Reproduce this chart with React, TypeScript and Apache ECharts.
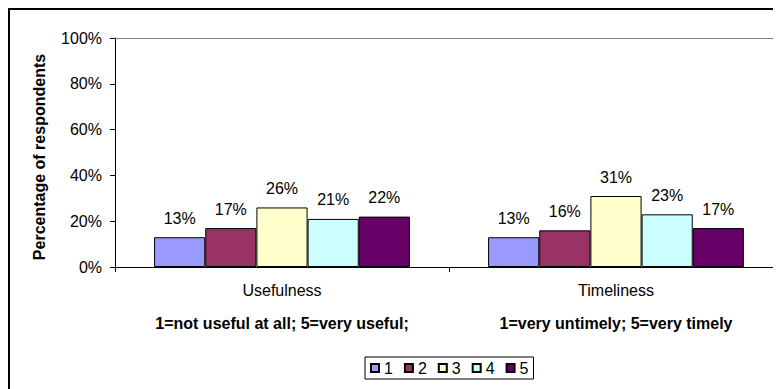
import React, { useEffect, useRef } from "react";
import * as echarts from "echarts";

const categories = ["Usefulness", "Timeliness"];
const subtitles = ["1=not useful at all; 5=very useful;", "1=very untimely; 5=very timely"];
const seriesNames = ["1", "2", "3", "4", "5"];
const rating1 = [13, 13];
const rating2 = [17, 16];
const rating3 = [26, 31];
const rating4 = [21, 23];
const rating5 = [22, 17];
const seriesColors = ["#9999FF", "#993366", "#FFFFCC", "#CCFFFF", "#660066"];
const yTicks = [0, 20, 40, 60, 80, 100];
const yAxisTitle = "Percentage of respondents";

const FONT = "'Liberation Sans', Arial, sans-serif";

export default function App() {
  const ref = useRef<HTMLDivElement>(null);
  useEffect(() => {
    document.body.style.overflow = "hidden";
    if (!ref.current) return;
    const chart = echarts.init(ref.current, undefined, { renderer: "svg" });
    const values = [rating1, rating2, rating3, rating4, rating5];
    chart.setOption({
      animation: false,
      textStyle: { fontFamily: FONT, color: "#000" },
      graphic: [
        {
          type: "polyline",
          shape: { points: [[1, 2000], [1, 1], [2000, 1]] },
          style: { fill: "none", stroke: "#000", lineWidth: 2 },
          silent: true,
          z: 100,
        },
        {
          type: "text",
          x: 31,
          y: 149,
          rotation: Math.PI / 2,
          style: {
            text: yAxisTitle,
            fontFamily: FONT,
            fontSize: 16,
            fontWeight: "bold",
            fill: "#000",
            textAlign: "center",
            textVerticalAlign: "middle",
          },
        },
      ],
      grid: {
        left: 107,
        top: 30,
        width: 668,
        height: 229,
        show: false,
        outerBoundsMode: "none",
      },
      legend: {
        data: seriesNames,
        left: 357,
        top: 349,
        orient: "horizontal",
        itemWidth: 8,
        itemHeight: 8,
        itemGap: 11,
        padding: [3, 5, 3, 5],
        borderColor: "#000",
        borderWidth: 1,
        icon: "rect",
        textStyle: { fontFamily: FONT, fontSize: 16, color: "#000" },
      },
      xAxis: [
        {
          type: "category",
          data: categories,
          axisLine: { show: true, lineStyle: { color: "#000", width: 1 } },
          axisTick: { show: true, length: 5, inside: false, lineStyle: { color: "#000" } },
          splitLine: { show: false },
          axisLabel: {
            interval: 0,
            margin: 13,
            color: "#000",
            formatter: (v: string, i: number) => `{a|${v}}\n{b|${subtitles[i]}}`,
            rich: {
              a: { fontFamily: FONT, fontSize: 16, lineHeight: 21, color: "#000" },
              b: { fontFamily: FONT, fontSize: 16, fontWeight: "bold", lineHeight: 44, color: "#000" },
            },
          },
        },
        {
          type: "category",
          data: categories,
          position: "top",
          axisLine: { show: true, lineStyle: { color: "#808080", width: 1 } },
          axisTick: { show: false },
          axisLabel: { show: false },
          splitLine: { show: false },
        },
      ],
      yAxis: {
        type: "value",
        min: yTicks[0],
        max: yTicks[yTicks.length - 1],
        interval: yTicks[1] - yTicks[0],
        axisLine: { show: true, lineStyle: { color: "#000", width: 1 } },
        axisTick: { show: true, length: 5, inside: false, lineStyle: { color: "#000" } },
        splitLine: { show: false },
        axisLabel: {
          margin: 13,
          color: "#000",
          fontFamily: FONT,
          fontSize: 16,
          formatter: "{value}%",
        },
      },
      series: seriesNames.map((name, k) => ({
        name,
        type: "bar",
        xAxisIndex: 0,
        data: values[k],
        barGap: 0,
        barCategoryGap: "23.4%",
        itemStyle: { color: seriesColors[k], borderColor: "#000", borderWidth: 1 },
        label: {
          show: true,
          position: "top",
          distance: 11,
          fontFamily: FONT,
          fontSize: 16,
          color: "#000",
          formatter: "{c}%",
        },
      })),
    });
    return () => chart.dispose();
  }, []);
  return <div ref={ref} style={{ width: 773, height: 381 }} />;
}
